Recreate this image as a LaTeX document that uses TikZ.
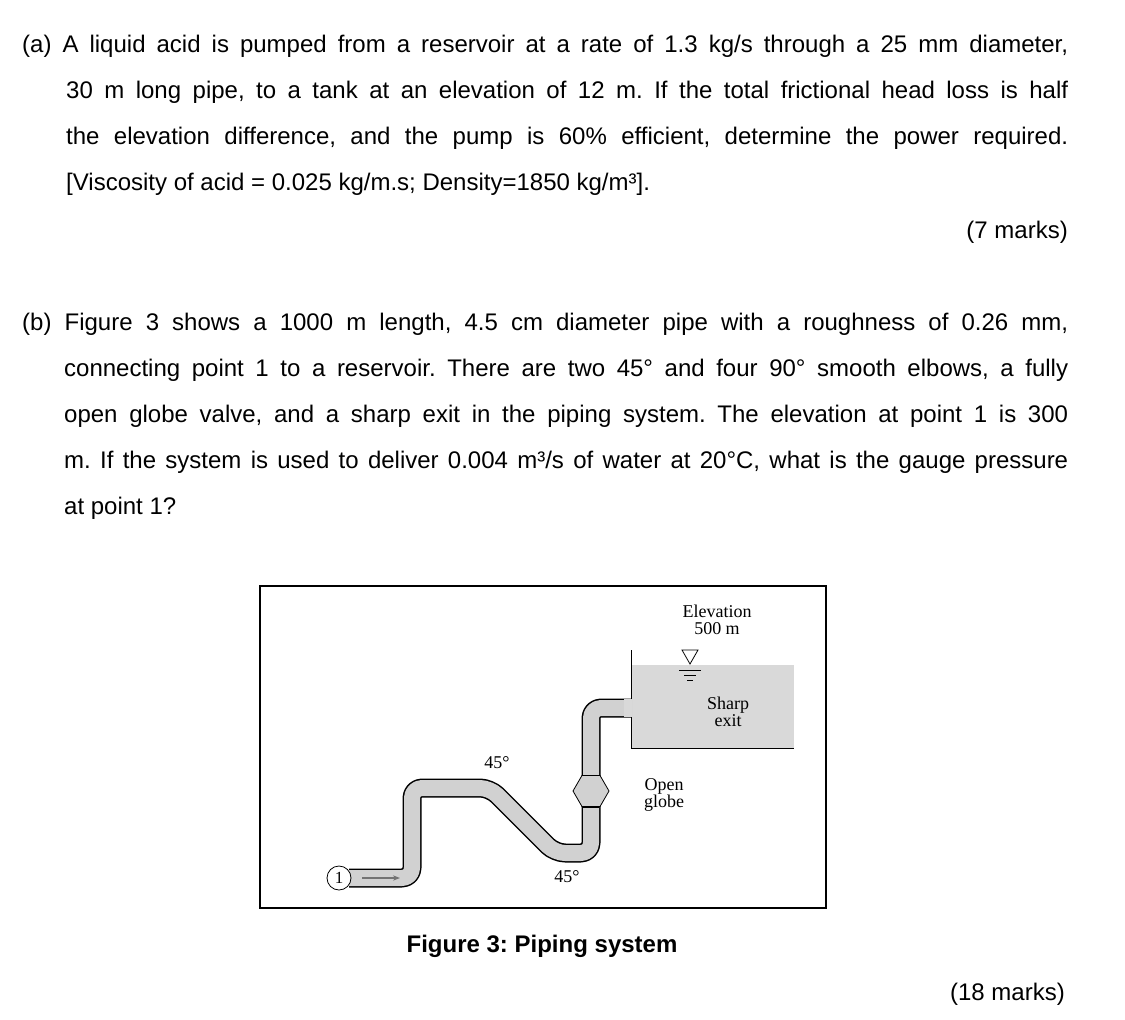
\documentclass[tikz,border=0pt]{standalone}
\usepackage{fontspec}
\usetikzlibrary{shapes.geometric,arrows.meta}
\setmainfont{Liberation Sans}
\newfontfamily\figfont{Liberation Serif}
\frenchspacing
\begin{document}
\begin{tikzpicture}[x=1pt,y=-1pt,
  txt/.style={anchor=base west,inner sep=0pt,font=\fontsize{24}{28}\selectfont},
  lbl/.style={inner sep=0pt,align=center,font=\figfont\fontsize{18}{18}\selectfont},
  pipeout/.style={line width=19pt,rounded corners=10pt,line join=round},
  pipein/.style={line width=16pt,rounded corners=10pt,color=black!18,line join=round}]
\useasboundingbox (0,0) rectangle (1125,1020);
\fill[white] (0,0) rectangle (1125,1020);
\newcommand{\jl}[4]{\node[txt] (#1) at (#2) {\makebox[#3pt][s]{#4}};}
\jl{a1}{22,52}{1046}{(a) A liquid acid is pumped from a reservoir at a rate of 1.3 kg/s through a 25 mm diameter,}
\jl{a2}{66,98}{1002}{30 m long pipe, to a tank at an elevation of 12 m. If the total frictional head loss is half}
\jl{a3}{66,144}{1002}{the elevation difference, and the pump is 60\% efficient, determine the power required.}
\node[txt] (a4) at (66,190) {[Viscosity of acid = 0.025 kg/m.s; Density=1850 kg/m³].};
\node[txt,anchor=base east] (m7) at (1068,238) {(7 marks)};
\jl{b1}{22,330}{1046}{(b) Figure 3 shows a 1000 m length, 4.5 cm diameter pipe with a roughness of 0.26 mm,}
\jl{b2}{64,376}{1004}{connecting point 1 to a reservoir. There are two 45° and four 90° smooth elbows, a fully}
\jl{b3}{64,422}{1004}{open globe valve, and a sharp exit in the piping system. The elevation at point 1 is 300}
\jl{b4}{64,468}{1004}{m. If the system is used to deliver 0.004 m³/s of water at 20°C, what is the gauge pressure}
\node[txt] (b5) at (64,514) {at point 1?};
\node[txt,anchor=base east] (m18) at (1065,1000) {(18 marks)};
\node[txt,anchor=base,font=\bfseries\fontsize{24}{28}\selectfont] (cap) at (542,952) {Figure 3: Piping system};
% figure box
\draw[line width=1.2pt] (260,586) rectangle (826,908);
% tank
\fill[black!15] (631,665) rectangle (794,748);
\draw[line width=1pt] (631,650) -- (631,748) -- (794,748);
% pipe
\coordinate (p0) at (349,878);
\coordinate (p7) at (631,708);
\draw[pipeout] (p0) -- (412,878) -- (412,788) -- (490,788) -- (555,853) -- (591,853) -- (591,708) -- (p7);
\draw[pipein] (p0) -- (412,878) -- (412,788) -- (490,788) -- (555,853) -- (591,853) -- (591,708) -- (632,708);
\fill[black!15] (624,699) rectangle (632,717);
% valve
\node[draw,line width=0.8pt,fill=black!18,regular polygon,regular polygon sides=6,minimum size=36pt,inner sep=0pt] (valve) at (591,791) {};
\draw[line width=0.8pt] (583,775) -- (599,775) (583,807) -- (599,807);
% point 1
\node[draw,circle,fill=white,line width=0.8pt,minimum size=24pt,inner sep=0pt,font=\figfont\fontsize{17}{17}\selectfont] (pt1) at (339,878) {1};
\coordinate (ar0) at (362,878);
\coordinate (ar1) at (400,878);
\draw[-{Stealth[length=7pt]},black!55,line width=1.5pt] (ar0) -- (ar1);
% free surface
\draw[line width=0.8pt] (682,650) -- (698,650) -- (690,664) -- cycle;
\draw[line width=0.8pt] (679,670) -- (701,670) (684,675) -- (696,675) (687,680) -- (693,680);
% labels
\node[lbl] (elev) at (717,620) {Elevation\\[-1pt]500 m};
\node[lbl] (sharp) at (728,712) {Sharp\\[-1pt]exit};
\node[lbl] (d45a) at (497,763) {45°};
\node[lbl] (d45b) at (567,877) {45°};
\node[lbl] (glob) at (664,795) {Open\\[-1pt]globe};
\end{tikzpicture}
\end{document}
